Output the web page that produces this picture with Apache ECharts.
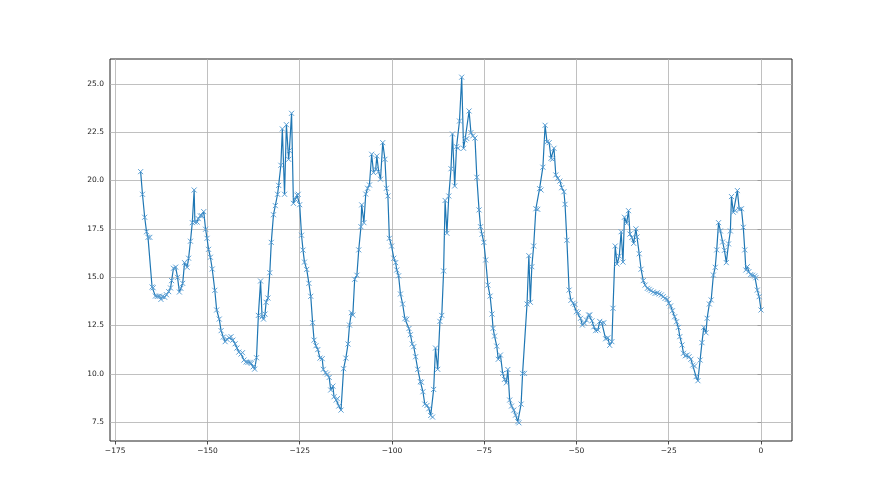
<!DOCTYPE html>
<html>
<head>
<meta charset="utf-8">
<script src="https://cdn.jsdelivr.net/npm/echarts@6/dist/echarts.min.js"></script>
<style>html,body{margin:0;padding:0;background:#fff}#c{width:880px;height:495px}</style>
</head>
<body>
<div id="c"></div>
<script>
const xs = [-168.1,-167.6,-167.0,-166.5,-166.1,-165.6,-165.0,-164.7,-164.1,-163.6,-163.0,-162.6,-162.2,-161.6,-161.1,-160.5,-160.0,-159.7,-159.2,-158.6,
-158.1,-157.6,-157.2,-156.7,-156.2,-155.8,-155.5,-155.1,-154.6,-154.1,-153.6,-153.4,-152.8,-152.5,-151.9,-151.5,-151.0,-150.5,-150.1,-149.7,
-149.2,-148.7,-148.0,-147.5,-146.8,-146.3,-145.7,-145.2,-144.7,-144.1,-143.6,-143.1,-142.5,-142.0,-141.5,-140.9,-140.5,-140.1,-139.5,-139.0,
-138.4,-138.1,-137.6,-137.2,-136.7,-136.2,-135.6,-135.2,-134.8,-134.4,-134.1,-133.6,-133.1,-132.7,-132.1,-131.6,-131.0,-130.7,-130.1,-129.7,
-129.1,-128.6,-128.0,-127.8,-127.2,-126.7,-126.2,-125.7,-125.4,-125.0,-124.5,-124.1,-123.7,-123.1,-122.5,-122.0,-121.5,-121.1,-120.6,-120.1,
-119.5,-118.9,-118.6,-118.0,-117.5,-117.0,-116.6,-116.0,-115.7,-115.1,-114.8,-114.4,-113.8,-113.1,-112.5,-111.9,-111.5,-111.0,-110.6,-110.1,
-109.5,-109.0,-108.4,-108.2,-107.6,-107.1,-106.6,-106.1,-105.5,-105.0,-104.4,-104.1,-103.6,-103.1,-102.5,-101.9,-101.5,-101.1,-100.7,-100.1,
-99.5,-99.0,-98.7,-98.2,-97.7,-97.1,-96.5,-96.0,-95.4,-95.0,-94.5,-94.1,-93.6,-93.0,-92.3,-92.0,-91.6,-91.1,-90.5,-90.0,
-89.5,-89.0,-88.7,-88.2,-87.6,-87.0,-86.5,-86.0,-85.6,-85.1,-84.6,-84.0,-83.6,-83.0,-82.5,-82.1,-81.7,-81.1,-80.6,-80.2,
-79.7,-79.1,-78.6,-78.1,-77.5,-77.0,-76.4,-76.0,-75.6,-75.1,-74.6,-74.0,-73.4,-72.9,-72.6,-72.2,-71.6,-71.2,-70.6,-70.0,
-69.5,-69.0,-68.6,-68.1,-67.6,-67.0,-66.5,-65.9,-65.6,-65.0,-64.6,-64.1,-63.4,-62.9,-62.5,-62.1,-61.6,-61.0,-60.5,-60.0,
-59.6,-59.1,-58.5,-58.0,-57.4,-56.9,-56.5,-56.1,-55.6,-55.1,-54.5,-54.0,-53.4,-53.1,-52.6,-52.0,-51.5,-50.9,-50.4,-50.0,
-49.5,-48.9,-48.4,-47.8,-47.3,-46.7,-46.4,-45.8,-45.3,-44.8,-44.2,-43.7,-43.1,-42.6,-42.1,-41.5,-41.0,-40.4,-40.1,-39.5,
-39.0,-38.4,-37.9,-37.4,-37.0,-36.4,-35.9,-35.5,-35.0,-34.5,-33.9,-33.6,-33.0,-32.5,-31.9,-31.4,-30.8,-30.3,-29.8,-29.2,
-28.7,-28.1,-27.6,-27.0,-26.5,-26.0,-25.4,-25.0,-24.5,-24.0,-23.4,-22.9,-22.4,-22.0,-21.4,-21.0,-20.5,-20.0,-19.5,-19.0,
-18.5,-18.0,-17.6,-17.1,-16.5,-16.0,-15.5,-14.9,-14.6,-14.0,-13.5,-12.9,-12.4,-12.0,-11.5,-11.0,-10.4,-9.9,-9.4,-8.8,
-8.3,-8.0,-7.5,-7.0,-6.4,-5.9,-5.3,-4.8,-4.4,-4.1,-3.7,-3.3,-2.8,-2.3,-1.7,-1.4,-1.0,-0.5,0.0];
const ys = [20.46,19.29,18.10,17.35,17.06,17.06,14.49,14.45,14.02,14.00,14.02,13.85,14.00,13.96,14.09,14.25,14.44,14.82,15.46,15.52,
14.99,14.23,14.42,14.68,15.75,15.66,15.51,15.98,16.86,17.82,19.51,17.85,17.85,18.03,18.17,18.17,18.39,17.48,17.01,16.44,
16.03,15.42,14.32,13.30,12.83,12.23,11.90,11.66,11.78,11.86,11.92,11.74,11.55,11.33,11.12,11.02,11.09,10.71,10.61,10.59,
10.59,10.54,10.36,10.24,10.83,13.02,14.80,12.95,12.83,13.09,13.70,13.92,15.23,16.80,18.23,18.70,19.29,19.75,20.79,22.67,
19.29,22.89,21.10,21.55,23.48,18.82,19.03,19.24,19.29,18.75,17.17,16.40,15.78,15.40,14.68,14.01,12.64,11.74,11.45,11.25,
10.81,10.78,10.23,10.05,9.98,9.81,9.16,9.36,8.81,8.64,8.71,8.33,8.12,10.26,10.81,11.54,12.52,13.16,13.04,14.89,
15.10,16.41,17.61,18.74,17.82,19.30,19.60,19.77,21.36,20.41,20.58,21.27,20.46,20.07,21.96,21.10,19.60,19.20,17.01,16.61,
15.98,15.75,15.37,15.07,14.13,13.61,12.85,12.82,12.34,12.02,11.54,11.40,10.88,10.23,9.59,9.56,9.07,8.43,8.36,8.19,
7.84,7.76,9.19,11.33,10.23,12.71,13.02,15.32,18.97,17.27,19.20,20.61,22.41,19.72,21.75,21.67,23.08,25.35,21.67,22.10,
22.17,23.60,22.48,22.31,22.20,20.17,18.48,17.61,17.22,16.80,15.89,14.59,14.02,13.09,12.35,11.95,11.43,10.75,10.97,10.02,
9.71,9.53,10.22,8.64,8.33,8.12,7.86,7.52,7.46,8.43,10.02,10.02,13.61,16.11,13.70,15.54,16.61,18.54,18.51,19.58,
19.51,20.69,22.86,22.00,21.96,21.15,21.10,21.67,20.29,20.12,19.97,19.63,19.42,18.77,16.91,14.33,13.80,13.65,13.59,13.21,
13.16,12.87,12.52,12.61,12.78,13.04,13.04,12.74,12.43,12.23,12.26,12.71,12.61,12.64,11.81,11.86,11.47,11.66,13.39,16.61,
15.68,16.09,17.35,15.78,18.10,17.79,18.44,17.23,17.05,16.75,17.50,17.08,16.21,15.41,14.82,14.59,14.42,14.37,14.30,14.23,
14.16,14.19,14.13,14.08,13.99,13.90,13.85,13.65,13.51,13.26,12.95,12.69,12.40,11.92,11.49,11.06,10.93,10.97,10.88,10.75,
10.45,10.40,9.85,9.64,10.71,11.61,12.40,12.12,12.87,13.61,13.82,15.11,15.51,16.41,17.82,17.39,16.82,16.39,15.75,16.72,
17.39,19.17,18.36,18.44,19.48,18.51,18.54,17.58,16.41,15.37,15.54,15.28,15.13,15.10,15.06,14.97,14.33,13.99,13.30];
const xTicks = [-175,-150,-125,-100,-75,-50,-25,0];
const yTicks = [7.5,10.0,12.5,15.0,17.5,20.0,22.5,25.0];

const data = xs.map((x,i)=>[x,ys[i]]);
const fmtMinus = v => String(v).replace('-', '\u2212');
const gridLines = xTicks.map(v=>({xAxis:v})).concat(yTicks.map(v=>({yAxis:v})));

const chart = echarts.init(document.getElementById('c'));
chart.setOption({
  animation:false,
  backgroundColor:'#fff',
  grid:{left:110, top:59, width:682, height:382, show:true, borderColor:'#222', borderWidth:1, containLabel:false},
  xAxis:{type:'value', min:-176.4, max:8.4,
    splitLine:{show:false}, axisLine:{show:false},
    axisTick:{show:true, inside:false, length:3.5, customValues:xTicks, lineStyle:{color:'#222', width:0.8}},
    axisLabel:{customValues:xTicks, margin:6, fontSize:7.5, color:'#222', fontFamily:'DejaVu Sans', formatter:v=>fmtMinus(v)}},
  yAxis:{type:'value', min:6.52, max:26.29,
    splitLine:{show:false}, axisLine:{show:false},
    axisTick:{show:true, inside:false, length:3.5, customValues:yTicks, lineStyle:{color:'#222', width:0.8}},
    axisLabel:{customValues:yTicks, margin:6, fontSize:7.5, color:'#222', fontFamily:'DejaVu Sans', formatter:v=>v.toFixed(1)}},
  series:[{
    type:'line', data:data, z:3,
    lineStyle:{color:'#1f77b4', width:1.2},
    symbol:'path://M0,0L10,10M10,0L0,10', symbolSize:5, showAllSymbol:true,
    itemStyle:{color:'rgba(0,0,0,0)', borderColor:'#5b9fd4', borderWidth:1},
    markLine:{silent:true, z:1, symbol:['none','none'], label:{show:false}, animation:false,
      lineStyle:{type:'solid', color:'#b0b0b0', width:0.8}, emphasis:{disabled:true},
      data:gridLines}
  }]
});
</script>
</body>
</html>
